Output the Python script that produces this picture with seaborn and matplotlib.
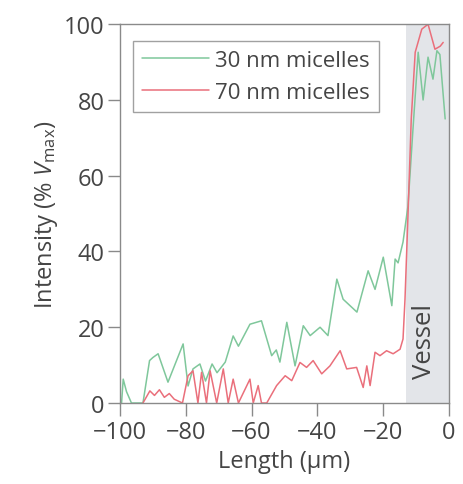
import matplotlib
matplotlib.use("Agg")
import matplotlib.pyplot as plt
import seaborn as sns
import pandas as pd

# --- data ---
x30 = [-99.5, -99, -98, -96.5, -93, -91, -90, -88.4, -85.4, -80.8, -79.3, -77.8, -75.7, -74,
       -72, -70.5, -68, -65.6, -64, -60.5, -57, -53.9, -52.5, -51.4, -49.3, -46.8, -44.3,
       -42.2, -39.2, -36.8, -34.1, -32.2, -28, -24.6, -22.5, -20, -17.4, -16.4, -15.5, -14,
       -12.5, -11, -9.4, -7.9, -6.4, -4.9, -3.7, -2.8, -1.2]
y30 = [0, 6.3, 3, 0, 0, 11.2, 12, 13, 5.5, 15.6, 4.5, 9, 10.3, 5.8,
       10.3, 8, 10.8, 17.7, 15, 20.8, 21.7, 12.5, 14, 10.8, 21.3, 9.8, 20.4,
       17.8, 20, 17.8, 32.7, 27.4, 24, 34.9, 30, 38.5, 25.7, 38, 37, 42.5,
       52, 72, 92.6, 80, 91.3, 85.5, 93, 92, 75]

x70 = [-93, -90.9, -89.5, -88, -86.5, -85, -83.5, -81, -79.3, -77.8, -76.3, -75.2, -73.7,
       -72.6, -70.6, -68.6, -67.1, -65.6, -64, -60.5, -59.5, -58, -57, -55.4, -52.4, -49.8,
       -47.8, -45.3, -43.3, -41.3, -38.7, -36.2, -33.1, -31.1, -28.1, -26.1, -25, -24,
       -22.5, -21, -19, -17, -14.9, -14, -13.4, -12.5, -11.5, -10.3, -8.3, -6.4, -4.3,
       -2.7, -1.8]
y70 = [0, 3.2, 2, 3.5, 1.5, 2.5, 1, 0, 7.2, 8.5, 0, 8.1, 0,
       8.5, 0, 9, 0, 6.3, 0, 6.3, 0, 4.6, 0, 0, 4.6, 7.2,
       5.9, 10.7, 9.4, 11.2, 7.7, 9.8, 13.8, 9, 9.4, 4.1, 9.8, 4.6,
       13.4, 12.5, 13.8, 13, 14.2, 16.9, 27.4, 49.4, 75, 92.6, 98.7, 100, 93.4,
       94.2, 95.2]

series_labels = ["30 nm micelles", "70 nm micelles"]
vessel_span = (-13.2, 0)
x_ticks = [-100, -80, -60, -40, -20, 0]
y_ticks = [0, 20, 40, 60, 80, 100]

df = pd.concat([
    pd.DataFrame({"x": x30, "y": y30, "s": series_labels[0]}),
    pd.DataFrame({"x": x70, "y": y70, "s": series_labels[1]}),
])

sns.set_style("white")
plt.rcParams["font.family"] = ["Open Sans", "DejaVu Sans"]
plt.rcParams["mathtext.fontset"] = "custom"
plt.rcParams["mathtext.rm"] = "Open Sans"
plt.rcParams["mathtext.it"] = "Open Sans:italic"

text_col = "#454545"
spine_col = "#8a8a8a"

fig = plt.figure(figsize=(4.63, 4.85), dpi=100)
ax = fig.add_axes([0.259, 0.167, 0.711, 0.781])

ax.axvspan(vessel_span[0], vessel_span[1], color="#e3e5e9", lw=0, zorder=0)

sns.lineplot(data=df, x="x", y="y", hue="s", sort=False, estimator=None,
             palette=["#7fc79b", "#ea6f7b"], linewidth=1.1, ax=ax)

ax.set_xlim(-100, 0)
ax.set_ylim(0, 100)
ax.set_xticks(x_ticks)
ax.set_yticks(y_ticks)
ax.tick_params(direction="out", length=9, width=1, color=spine_col,
               labelsize=17, labelcolor=text_col, pad=2,
               bottom=True, left=True)
ax.tick_params(axis="x", pad=3)
for sp in ax.spines.values():
    sp.set_color(spine_col)
    sp.set_linewidth(1)

ax.set_xlabel("Length (µm)", fontsize=17, color=text_col, labelpad=4)
ax.set_ylabel("Intensity (% $\\mathit{V}_{\\mathrm{max}}$)", fontsize=17,
              color=text_col, labelpad=3)

ax.text(-7.4, 16.5, "Vessel", rotation=90, ha="center", va="center",
        fontsize=18.5, color=text_col)

leg = ax.legend(loc="upper left", bbox_to_anchor=(0.04, 0.955), fontsize=16,
                frameon=True, fancybox=False, handlelength=3.0, handletextpad=0.3,
                borderpad=0.4, labelspacing=0.5, borderaxespad=0.0)
leg.get_frame().set_edgecolor("#8a8a8a")
leg.get_frame().set_linewidth(1)
for t in leg.get_texts():
    t.set_color(text_col)

fig.savefig("out.png", dpi=100)
